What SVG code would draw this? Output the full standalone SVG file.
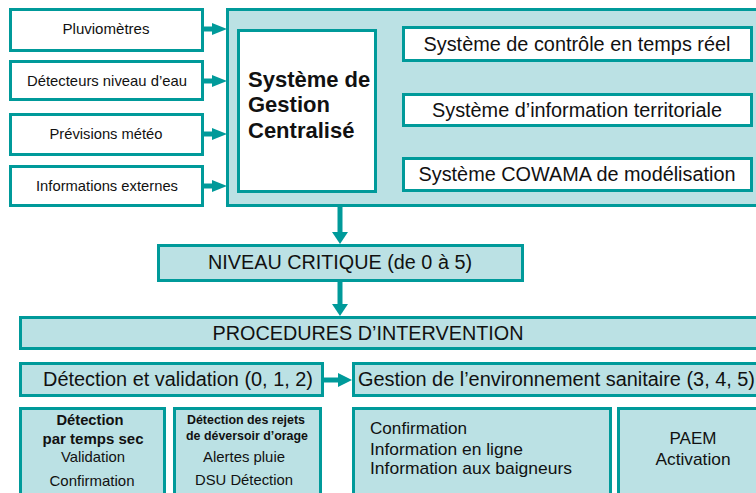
<svg xmlns="http://www.w3.org/2000/svg" width="756" height="493" viewBox="0 0 756 493">
<defs>
<style>
.box{fill:#ffffff;stroke:#009a9a;stroke-width:3}
.lbox{fill:#bbe1e4;stroke:#009a9a;stroke-width:3}
.t{font-family:"Liberation Sans",Arial,sans-serif;fill:#111;text-anchor:middle}
.tl{font-family:"Liberation Sans",Arial,sans-serif;fill:#111}
.b{font-weight:bold}
.ln{stroke:#009a9a;stroke-width:5;fill:none}
.hd{fill:#009a9a}
</style>
</defs>
<rect width="756" height="493" fill="#ffffff"/>

<g id="pluviometres">
<rect class="box" x="10.5" y="9.5" width="192" height="41"/>
<text class="t" x="106" y="34" font-size="15" textLength="87" lengthAdjust="spacingAndGlyphs">Pluviomètres</text>
</g>
<g id="detecteurs">
<rect class="box" x="10.5" y="61.5" width="192" height="38"/>
<text class="t" x="107" y="86" font-size="15" textLength="160" lengthAdjust="spacingAndGlyphs">Détecteurs niveau d’eau</text>
</g>
<g id="previsions">
<rect class="box" x="10.5" y="114.5" width="192" height="40"/>
<text class="t" x="106" y="139" font-size="15" textLength="113" lengthAdjust="spacingAndGlyphs">Prévisions météo</text>
</g>
<g id="infos-externes">
<rect class="box" x="10.5" y="166.5" width="192" height="39"/>
<text class="t" x="107" y="191" font-size="15" textLength="142" lengthAdjust="spacingAndGlyphs">Informations externes</text>
</g>

<g id="systeme-global">
<rect class="lbox" x="227.5" y="9.5" width="540" height="196"/>
</g>
<g id="sgc">
<rect class="box" x="238.5" y="30.5" width="137" height="161"/>
<text class="tl b" x="248" y="87" font-size="22">Système de</text>
<text class="tl b" x="248" y="112" font-size="22">Gestion</text>
<text class="tl b" x="248" y="138" font-size="22">Centralisé</text>
</g>
<g id="controle">
<rect class="box" x="403.5" y="27.5" width="348" height="33"/>
<text class="t" x="577" y="51" font-size="20" textLength="307" lengthAdjust="spacingAndGlyphs">Système de contrôle en temps réel</text>
</g>
<g id="info-territoriale">
<rect class="box" x="403.5" y="94.5" width="348" height="31"/>
<text class="t" x="577" y="117" font-size="20" textLength="290" lengthAdjust="spacingAndGlyphs">Système d’information territoriale</text>
</g>
<g id="cowama">
<rect class="box" x="403.5" y="158.5" width="348" height="32"/>
<text class="t" x="577" y="181" font-size="20" textLength="317" lengthAdjust="spacingAndGlyphs">Système COWAMA de modélisation</text>
</g>

<g id="niveau-critique">
<rect class="lbox" x="158.5" y="245.5" width="364" height="35"/>
<text class="t" x="340" y="269" font-size="20" textLength="264" lengthAdjust="spacingAndGlyphs">NIVEAU CRITIQUE (de 0 à 5)</text>
</g>
<g id="procedures">
<rect class="lbox" x="20.5" y="317.5" width="740" height="31"/>
<text class="t" x="368" y="340" font-size="20" textLength="311" lengthAdjust="spacingAndGlyphs">PROCEDURES D’INTERVENTION</text>
</g>
<g id="detection-validation">
<rect class="lbox" x="20.5" y="363.5" width="302" height="32"/>
<text class="t" x="178" y="386" font-size="20" textLength="270" lengthAdjust="spacingAndGlyphs">Détection et validation (0, 1, 2)</text>
</g>
<g id="gestion-env">
<rect class="lbox" x="353.5" y="363.5" width="410" height="32"/>
<text class="tl" x="358" y="386" font-size="20" textLength="397" lengthAdjust="spacingAndGlyphs">Gestion de l’environnement sanitaire (3, 4, 5)</text>
</g>

<g id="temps-sec">
<rect class="lbox" x="20.5" y="408.5" width="144" height="100"/>
<text class="t b" x="90" y="425" font-size="15" textLength="67" lengthAdjust="spacingAndGlyphs">Détection</text>
<text class="t b" x="93" y="444" font-size="15" textLength="101" lengthAdjust="spacingAndGlyphs">par temps sec</text>
<text class="t" x="93" y="462" font-size="15" textLength="64" lengthAdjust="spacingAndGlyphs">Validation</text>
<text class="t" x="92" y="486" font-size="15" textLength="85" lengthAdjust="spacingAndGlyphs">Confirmation</text>
</g>
<g id="rejets-deversoir">
<rect class="lbox" x="174.5" y="408.5" width="146" height="100"/>
<text class="t b" x="246" y="424" font-size="12.5" textLength="118" lengthAdjust="spacingAndGlyphs">Détection des rejets</text>
<text class="t b" x="247" y="440" font-size="12.5" textLength="122" lengthAdjust="spacingAndGlyphs">de déversoir d’orage</text>
<text class="t" x="244" y="462" font-size="15" textLength="82" lengthAdjust="spacingAndGlyphs">Alertes pluie</text>
<text class="t" x="244" y="485" font-size="15" textLength="98" lengthAdjust="spacingAndGlyphs">DSU Détection</text>
</g>
<g id="gestion-details">
<rect class="lbox" x="353.5" y="408.5" width="257" height="100"/>
<text class="tl" x="370" y="434" font-size="17" textLength="97" lengthAdjust="spacingAndGlyphs">Confirmation</text>
<text class="tl" x="370" y="455" font-size="17" textLength="153" lengthAdjust="spacingAndGlyphs">Information en ligne</text>
<text class="tl" x="370" y="474" font-size="17" textLength="202" lengthAdjust="spacingAndGlyphs">Information aux baigneurs</text>
</g>
<g id="paem">
<rect class="lbox" x="618.5" y="408.5" width="150" height="100"/>
<text class="t" x="693" y="444" font-size="17" textLength="47" lengthAdjust="spacingAndGlyphs">PAEM</text>
<text class="t" x="693" y="465" font-size="17" textLength="75" lengthAdjust="spacingAndGlyphs">Activation</text>
</g>

<g id="connectors">
<line class="ln" x1="204" y1="29" x2="214" y2="29"/>
<polygon class="hd" points="212,23 227,29 212,35"/>
<line class="ln" x1="204" y1="81" x2="214" y2="81"/>
<polygon class="hd" points="212,75 227,81 212,87"/>
<line class="ln" x1="204" y1="134" x2="214" y2="134"/>
<polygon class="hd" points="212,128 227,134 212,140"/>
<line class="ln" x1="204" y1="186" x2="214" y2="186"/>
<polygon class="hd" points="212,180 227,186 212,192"/>
<line class="ln" x1="340" y1="207" x2="340" y2="234"/>
<polygon class="hd" points="332,232 348,232 340,244"/>
<line class="ln" x1="340" y1="282" x2="340" y2="306"/>
<polygon class="hd" points="332,304 348,304 340,316"/>
<line class="ln" x1="324" y1="380" x2="340" y2="380"/>
<polygon class="hd" points="338,373 352,380 338,387"/>
</g>
</svg>
